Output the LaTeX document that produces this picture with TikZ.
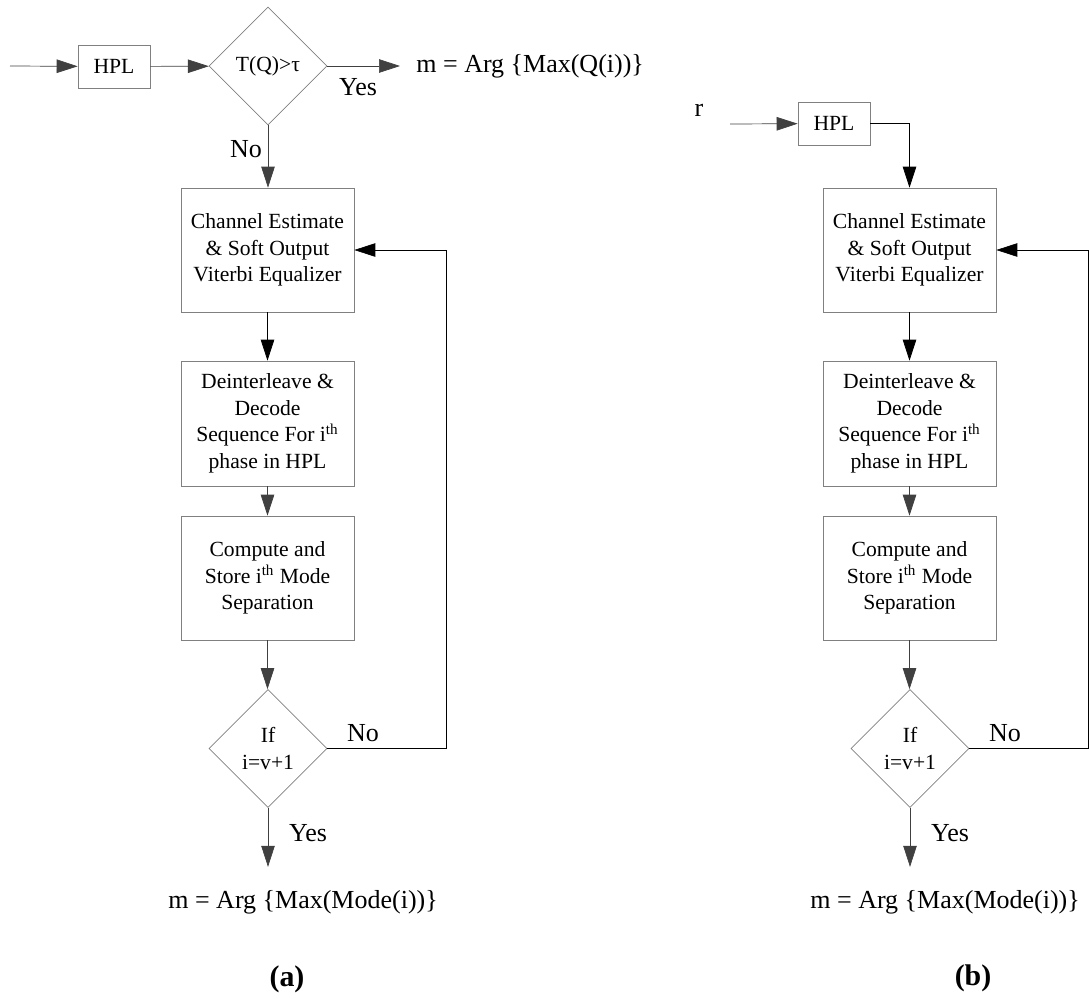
\documentclass[tikz,border=0pt]{standalone}
\usepackage{fontspec}
\setmainfont{Liberation Serif}
\usetikzlibrary{shapes.geometric,arrows.meta}

\tikzset{
  blk/.style={draw=gray, rectangle, inner sep=0pt, minimum width=3.46cm, align=center, font=\fontsize{12.3}{15.1}\selectfont},
  hplbox/.style={draw=gray, rectangle, inner sep=0pt, minimum width=1.44cm, minimum height=0.86cm, font=\fontsize{12.3}{15.1}\selectfont},
  decision/.style={draw=gray, diamond, inner sep=0pt, minimum width=2.36cm, minimum height=2.36cm, align=center, font=\fontsize{12.3}{15.4}\selectfont},
  lbl/.style={inner sep=0pt, font=\fontsize{14.8}{17}\selectfont},
  flow/.style={draw=black!75, -{Triangle[length=0.42cm,width=0.27cm]}},
  flowk/.style={draw=black, -{Triangle[length=0.42cm,width=0.27cm]}}
}

\begin{document}
\begin{tikzpicture}[x=0.02cm, y=-0.02cm]
            \useasboundingbox (0,0) rectangle (1089,998);

            % (a) Threshold test on the HPL first
            \coordinate (inA) at (10,66);
            \node[hplbox] (hplA) at (114,66.5) {HPL};
            \node[decision] (decA) at (268,66) {T(Q)>τ};
            \node[lbl, anchor=west] (resA) at (416,66) {m = Arg \{Max(Q(i))\}};
            \node[lbl] (yesA) at (358,87) {Yes};
            \node[lbl] (noA) at (246,149) {No};

            % (a) Main loop
            \node[blk, minimum height=2.48cm] (boxA1) at (267.5,250) {Channel Estimate\\ \& Soft Output\\ Viterbi Equalizer};
            \node[blk, minimum height=2.5cm] (boxA2) at (267.5,423.5) {Deinterleave \&\\ Decode\\ Sequence For i\textsuperscript{th}\\ phase in HPL};
            \node[blk, minimum height=2.48cm] (boxA3) at (267.5,578) {Compute and\\ Store i\textsuperscript{th} Mode\\ Separation};
            \node[decision] (decA2) at (268,748.5) {If\\ i=v+1};
            \node[lbl] (noA2) at (363,733) {No};
            \node[lbl] (yesA2) at (308,833) {Yes};
            \node[lbl, anchor=west] (resA2) at (168,902) {m = Arg \{Max(Mode(i))\}};
            \node[font=\fontsize{17}{20}\selectfont\bfseries] (capA) at (287,979) {(a)};

            % (a) Arrows
            \draw[flow] (inA) -- (hplA);
            \draw[flow] (hplA) -- (decA);
            \draw[flow, shorten >=0.32cm] (decA) -- (resA);
            \draw[flow] (decA.south) -- (decA.south |- boxA1.north);
            \draw[flowk] (boxA1.south) -- (boxA1.south |- boxA2.north);
            \draw[flow] (boxA2) -- (boxA3);
            \draw[flow] (boxA3.south) -- (boxA3.south |- decA2.north);
            \draw[flow, shorten >=0.46cm] (decA2.south) -- (decA2.south |- resA2.north);
            \draw[flowk] (decA2.east) -- ++(119,0) |- (boxA1.east);

            % (b) Same loop, no threshold test
            \node[lbl] (rB) at (699,110) {r};
            \coordinate (inB) at (730,124);
            \node[hplbox] (hplB) at (834,123.5) {HPL};
            \node[blk, minimum height=2.48cm] (boxB1) at (909.5,250) {Channel Estimate\\ \& Soft Output\\ Viterbi Equalizer};
            \node[blk, minimum height=2.5cm] (boxB2) at (909.5,423.5) {Deinterleave \&\\ Decode\\ Sequence For i\textsuperscript{th}\\ phase in HPL};
            \node[blk, minimum height=2.48cm] (boxB3) at (909.5,578) {Compute and\\ Store i\textsuperscript{th} Mode\\ Separation};
            \node[decision] (decB2) at (910,748.5) {If\\ i=v+1};
            \node[lbl] (noB2) at (1005,733) {No};
            \node[lbl] (yesB2) at (950,833) {Yes};
            \node[lbl, anchor=west] (resB2) at (810,902) {m = Arg \{Max(Mode(i))\}};
            \node[font=\fontsize{17}{20}\selectfont\bfseries] (capB) at (973,978) {(b)};

            % (b) Arrows
            \draw[flow] (inB) -- (hplB);
            \draw[flowk] (hplB.east) -| (boxB1.north);
            \draw[flowk] (boxB1.south) -- (boxB1.south |- boxB2.north);
            \draw[flow] (boxB2) -- (boxB3);
            \draw[flow] (boxB3.south) -- (boxB3.south |- decB2.north);
            \draw[flow, shorten >=0.46cm] (decB2.south) -- (decB2.south |- resB2.north);
            \draw[flowk] (decB2.east) -- ++(119,0) |- (boxB1.east);
        \end{tikzpicture}
\end{document}
